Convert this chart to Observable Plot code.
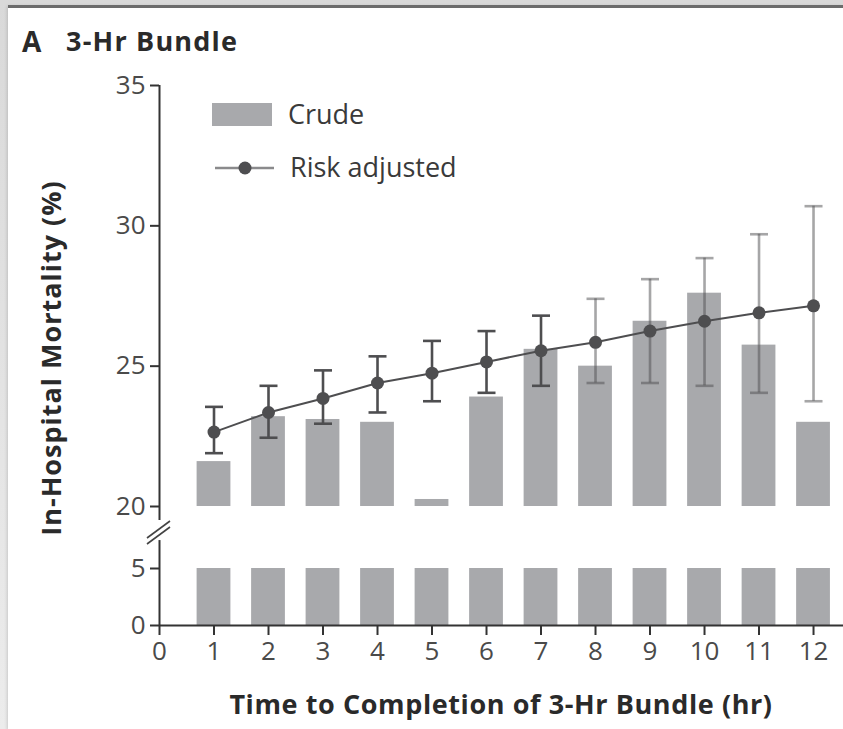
<!DOCTYPE html>
<html>
<head>
<meta charset="utf-8">
<script src="https://cdn.jsdelivr.net/npm/d3@7"></script>
<script src="https://cdn.jsdelivr.net/npm/@observablehq/plot@0.6"></script>
<style>
  html, body { margin: 0; padding: 0; }
  body { width: 843px; height: 729px; overflow: hidden; position: relative;
         background: linear-gradient(#d9d9d9, #ececec); font-family: "Open Sans", sans-serif; color: #2a2a2a; }
  #card { position: absolute; left: 8px; top: 5px; right: 0; bottom: 0; background: #fff;
          border-top: 3px solid #6c6c6c; box-shadow: -1px 1px 3px rgba(0,0,0,0.15); }
  .abs { position: absolute; white-space: nowrap; line-height: 1; }
  #upper, #lower { position: absolute; left: 0; }
  #upper { top: 60px; }
  #lower { top: 522px; }
  svg { overflow: visible; }
</style>
</head>
<body>
<div id="card"></div>
<div class="abs" style="left:22px; top:27px; font-size:28px; font-weight:700;">A</div>
<div class="abs" style="left:66px; top:27px; font-size:27px; font-weight:700; letter-spacing:1.2px;">3-Hr Bundle</div>

<div class="abs" id="sw-crude" style="left:212px; top:103px; width:60px; height:23px;"></div>
<div class="abs" style="left:288px; top:100px; font-size:27px; color:#3a3a3a;">Crude</div>
<svg class="abs" id="sw-adj" style="left:212px; top:158px;" width="64" height="20"></svg>
<div class="abs" style="left:290px; top:153px; font-size:27px; color:#3a3a3a;">Risk adjusted</div>

<div id="upper"></div>
<div id="lower"></div>

<div class="abs" style="left:50px; top:358px; transform:translate(-50%,-50%) rotate(-90deg); font-size:27px; font-weight:700; letter-spacing:1px;">In-Hospital Mortality (%)</div>
<div class="abs" style="left:159px; width:684px; text-align:center; top:690px; font-size:27px; font-weight:700; letter-spacing:0.6px;">Time to Completion of 3-Hr Bundle (hr)</div>

<script>
// ---- data ----
const hours     = [1, 2, 3, 4, 5, 6, 7, 8, 9, 10, 11, 12];
const crude     = [21.6, 23.2, 23.1, 23.0, 20.25, 23.9, 25.6, 25.0, 26.6, 27.6, 25.75, 23.0];
const adjusted  = [22.65, 23.35, 23.85, 24.4, 24.75, 25.15, 25.55, 25.85, 26.25, 26.6, 26.9, 27.15];
const ciLow     = [21.9, 22.45, 22.95, 23.35, 23.75, 24.05, 24.3, 24.4, 24.4, 24.3, 24.05, 23.75];
const ciHigh    = [23.55, 24.3, 24.85, 25.35, 25.9, 26.25, 26.8, 27.4, 28.1, 28.85, 29.7, 30.7];
const upperTicks = [20, 25, 30, 35];
const lowerTicks = [0, 5];
const xTicks     = [0, 1, 2, 3, 4, 5, 6, 7, 8, 9, 10, 11, 12];

// ---- styling ----
const barColor = "#a8a9ac";
const ink = "#4e4e50";
const axisInk = "#333";
const barHalf = 0.31;   // half bar width in x units
const capHalf = 0.165;  // half error-cap width in x units
const xDomain = [0, 12.55];
const fmt = d => String(d);

const rows = hours.map((h, i) => ({h, crude: crude[i], adj: adjusted[i], lo: ciLow[i], hi: ciHigh[i]}));
const dark = rows.filter(d => d.h < 8);
const light = rows.filter(d => d.h >= 8);

function errorMarks(data, opacity) {
  const o = {stroke: ink, strokeWidth: 2.6, strokeOpacity: opacity};
  return [
    Plot.ruleX(data, {x: "h", y1: "lo", y2: "hi", ...o}),
    Plot.link(data, {x1: d => d.h - capHalf, x2: d => d.h + capHalf, y1: "hi", y2: "hi", ...o}),
    Plot.link(data, {x1: d => d.h - capHalf, x2: d => d.h + capHalf, y1: "lo", y2: "lo", ...o})
  ];
}

const style = {fontFamily: "Open Sans", fontSize: "26px", color: "#4a4a4a", background: "transparent", overflow: "visible"};

const upper = Plot.plot({
  width: 843, height: 462,
  marginLeft: 159, marginRight: 0, marginTop: 25, marginBottom: 16,
  style,
  x: {domain: xDomain, axis: null},
  y: {domain: [20, 35], axis: null},
  marks: [
    Plot.rectY(rows, {x1: d => d.h - barHalf, x2: d => d.h + barHalf, y1: 20, y2: "crude", fill: barColor}),
    ...errorMarks(dark, 1),
    ...errorMarks(light, 0.5),
    Plot.line(rows, {x: "h", y: "adj", stroke: ink, strokeWidth: 2}),
    Plot.dot(rows, {x: "h", y: "adj", r: 6.5, fill: ink}),
    Plot.ruleX([0], {y1: 35, y2: 19.5, stroke: axisInk, strokeWidth: 2}),
    Plot.axisY({ticks: upperTicks, tickFormat: fmt, tickSize: 9, tickPadding: 5, strokeWidth: 2, stroke: axisInk, label: null})
  ]
});
document.getElementById("upper").append(upper);

function breakMark(index, scales) {
  const g = d3.create("svg:g").attr("stroke", "#444").attr("stroke-width", 1.6).attr("fill", "none");
  const x0 = scales.x(0), y5 = scales.y(5);
  for (const off of [0, 6]) {
    g.append("line")
      .attr("x1", x0 - 12).attr("y1", y5 - 30 + off)
      .attr("x2", x0 + 11).attr("y2", y5 - 47 + off);
  }
  return g.node();
}

const lower = Plot.plot({
  width: 843, height: 207,
  marginLeft: 159, marginRight: 0, marginTop: 46, marginBottom: 104,
  style,
  x: {domain: xDomain, axis: null},
  y: {domain: [0, 5], axis: null},
  marks: [
    Plot.rectY(rows, {x1: d => d.h - barHalf, x2: d => d.h + barHalf, y1: 0, y2: d => Math.min(d.crude, 5), fill: barColor}),
    Plot.ruleY([0], {stroke: axisInk, strokeWidth: 2}),
    Plot.ruleX([0], {y1: 0, y2: 7.45, stroke: axisInk, strokeWidth: 2}),
    breakMark,
    Plot.axisY({ticks: lowerTicks, tickFormat: fmt, tickSize: 9, tickPadding: 5, strokeWidth: 2, stroke: axisInk, label: null}),
    Plot.axisX({ticks: xTicks, tickFormat: fmt, tickSize: 10, tickPadding: 6, strokeWidth: 2, stroke: axisInk, label: null})
  ]
});
document.getElementById("lower").append(lower);

// legend swatches
document.getElementById("sw-crude").style.background = barColor;
const sw = d3.select("#sw-adj");
sw.append("line").attr("x1", 3).attr("x2", 62).attr("y1", 10).attr("y2", 10).attr("stroke", "#8a8a8c").attr("stroke-width", 2.5);
sw.append("circle").attr("cx", 33).attr("cy", 10).attr("r", 6.5).attr("fill", ink);
</script>
</body>
</html>
